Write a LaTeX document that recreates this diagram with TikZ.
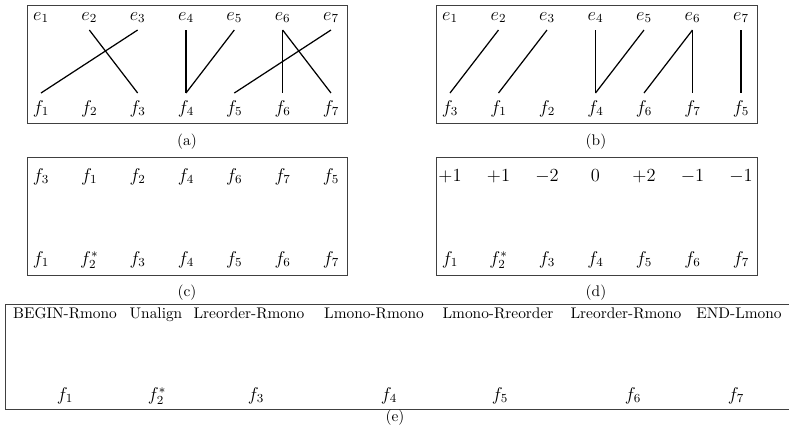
\documentclass[tikz,border=0pt]{standalone}
\usepackage{amsmath}
\tikzset{
  panel/.style={draw=black!75, line width=0.6pt},
  lbl/.style={anchor=base, inner sep=0pt, text height=9pt, text depth=2.5pt, outer sep=4pt},
  sym/.style={lbl, font=\large},
  link/.style={line width=0.8pt},
  sublbl/.style={inner sep=1pt}
}

\begin{document}
\begin{tikzpicture}[x=0.65pt, y=-0.65pt]
    \useasboundingbox (0,0) rectangle (789,425);

    % Panel (a): original alignment
    \draw[panel] (27,5) rectangle (347,123);
    \foreach \i in {1,...,7} {
        \node[sym] (a-e\i) at ({41+48.33*(\i-1)},20) {$e_{\i}$};
        \node[sym] (a-f\i) at ({41+48.33*(\i-1)},113) {$f_{\i}$};
    }
    \draw[link] (a-e2.south) -- (a-f3.north);
    \draw[link] (a-e3.south) -- (a-f1.north);
    \draw[link] (a-e4.south) -- (a-f4.north);
    \draw[link] (a-e5.south) -- (a-f4.north);
    \draw[link] (a-e6.south) -- (a-f6.north);
    \draw[link] (a-e6.south) -- (a-f7.north);
    \draw[link] (a-e7.south) -- (a-f5.north);
    \node[sublbl] (cap-a) at (187,142) {(a)};

    % Panel (b): reordered target side
    \draw[panel] (436,5) rectangle (757,123);
    \foreach \i in {1,...,7}
        \node[sym] (b-e\i) at ({450+48.5*(\i-1)},20) {$e_{\i}$};
    \foreach \k [count=\i] in {3,1,2,4,6,7,5}
        \node[sym] (b-f\k) at ({450+48.5*(\i-1)},113) {$f_{\k}$};
    \draw[link] (b-e2.south) -- (b-f3.north);
    \draw[link] (b-e3.south) -- (b-f1.north);
    \draw[link] (b-e4.south) -- (b-f4.north);
    \draw[link] (b-e5.south) -- (b-f4.north);
    \draw[link] (b-e6.south) -- (b-f6.north);
    \draw[link] (b-e6.south) -- (b-f7.north);
    \draw[link] (b-e7.south) -- (b-f5.north);
    \node[sublbl] (cap-b) at (596,142) {(b)};

    % Panel (c)
    \draw[panel] (27,157) rectangle (347,275);
    \foreach \k [count=\i] in {3,1,2,4,6,7,5}
        \node[sym] (c-t\i) at ({41+48.33*(\i-1)},181) {$f_{\k}$};
    \foreach \lab [count=\i] in {f_1,f_2^*,f_3,f_4,f_5,f_6,f_7}
        \node[sym] (c-f\i) at ({41+48.33*(\i-1)},264) {$\lab$};
    \node[sublbl] (cap-c) at (187,293) {(c)};

    % Panel (d)
    \draw[panel] (436,157) rectangle (757,275);
    \foreach \v [count=\i] in {+1,+1,-2,0,+2,-1,-1}
        \node[sym] (d-t\i) at ({450+48.5*(\i-1)},181) {$\v$};
    \foreach \lab [count=\i] in {f_1,f_2^*,f_3,f_4,f_5,f_6,f_7}
        \node[sym] (d-f\i) at ({450+48.5*(\i-1)},264) {$\lab$};
    \node[sublbl] (cap-d) at (596,293) {(d)};

    % Panel (e): orientation classes
    \draw[panel] (5,304) rectangle (795,409);
    \foreach \t/\x [count=\i] in {BEGIN-Rmono/65, Unalign/156, Lreorder-Rmono/249, Lmono-Rmono/374,
                                  Lmono-Rreorder/498, Lreorder-Rmono/626, END-Lmono/739}
        \node[lbl] (e-t\i) at (\x,318) {\t};
    \foreach \lab/\x [count=\i] in {f_1/65, f_2^*/157, f_3/256, f_4/389, f_5/500, f_6/633, f_7/736}
        \node[sym] (e-f\i) at (\x,400) {$\lab$};
    \node[sublbl] (cap-e) at (395,418) {(e)};
\end{tikzpicture}
\end{document}
